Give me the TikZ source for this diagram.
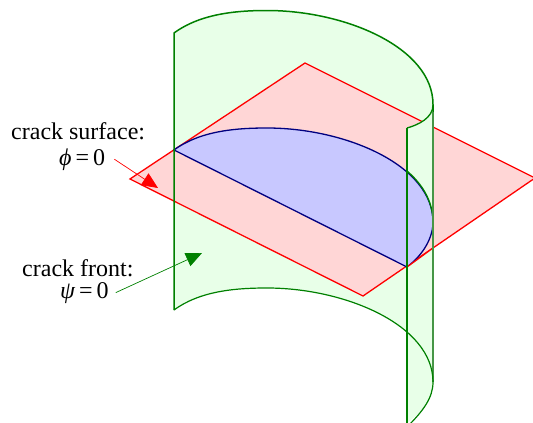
\documentclass[tikz,border=0pt]{standalone}
\usepackage{fontspec}
\setmainfont{Liberation Serif}
\usetikzlibrary{arrows.meta}
\definecolor{cylgreen}{RGB}{0,128,0}
\definecolor{cylfill} {RGB}{232,255,232}
\definecolor{edgeblue}{RGB}{0,0,128}
\definecolor{discblue}{RGB}{200,200,255}
\definecolor{planefill}{RGB}{255,214,214}
\definecolor{paleedge}{RGB}{70,150,70}

\begin{document}
\begin{tikzpicture}[
  x=1pt, y=-1pt,
  cyledge/.style={cylgreen, line width=1.5pt},
  planeedge/.style={red, line width=1.3pt},
  label/.style={font=\fontsize{24}{24}\selectfont, inner sep=0pt, anchor=base west},
  pointer/.style={line width=0.7pt, -{Triangle[length=16pt, width=14pt]}},
]
\useasboundingbox (0,0) rectangle (533,423);
\clip (0,0) rectangle (533,423);

% ── back of the cylinder ────────────────────────────────────
\fill[cylfill] (174,33) .. controls (200,14) and (235,10.5) .. (267,10.5)
  .. controls (345,10.5) and (433,47.5) .. (433,104.5)
  -- (433,382) .. controls (433,325) and (345,288) .. (267,288)
  .. controls (235,288) and (200,291) .. (174,310) -- cycle;

% ── crack surface ───────────────────────────────────────────
\filldraw[planeedge, fill=planefill] (130,179) -- (305,63) -- (535,178) -- (363,296) -- cycle;

% ── half disc ───────────────────────────────────────────────
\filldraw[edgeblue, line width=1.3pt, fill=discblue] (174,150)
  .. controls (200,131) and (235,128) .. (267,128)
  .. controls (345,128) and (433,165) .. (433,222)
  .. controls (433,238) and (423,255) .. (407,267) -- cycle;

% ── front strip of the cylinder ─────────────────────────────
\fill[cylfill] (407,128) .. controls (418,125) and (433,118) .. (433,105)
  -- (433,222) .. controls (433,200) and (421,183) .. (407,171) -- cycle;
\fill[cylfill] (407,267) -- (433,248) -- (433,382)
  .. controls (433,398) and (423,411) .. (407,423) -- cycle;
\draw[planeedge] (407,267) -- (433,248);

% ── cylinder edges ──────────────────────────────────────────
\draw[cyledge] (174,310) -- (174,33) .. controls (200,14) and (235,10.5) .. (267,10.5)
  .. controls (345,10.5) and (433,47.5) .. (433,104.5) -- (433,112);
\draw[cyledge, line width=1.3pt] (433,105) .. controls (433,118) and (418,125) .. (407,128);
\draw[cyledge, line width=1.8pt] (407,128) -- (407,423);
\draw[cyledge, line width=1.3pt] (433,222) .. controls (433,200) and (421,183) .. (407,171);
\draw[paleedge, line width=1.3pt] (433,112) -- (433,382);
\draw[cyledge, line width=1.2pt] (174,310) .. controls (200,291) and (235,288) .. (267,288)
  .. controls (345,288) and (433,325) .. (433,382)
  .. controls (433,398) and (423,411) .. (407,427);

% ── labels ──────────────────────────────────────────────────
\node[label] (surfacelabel) at (11,139) {crack surface:};
\node[label] (philabel) at (59,165) {{\itshape ϕ}\kern4pt=\kern4pt0};
\node[label] (frontlabel) at (22,276.5) {crack front:};
\node[label] (psilabel) at (60,298) {{\itshape ψ}\kern4pt=\kern4pt0};

% ── pointers ────────────────────────────────────────────────
\coordinate (surfacetip) at (158,188);
\coordinate (fronttip) at (202,253);
\draw[pointer, red] ([xshift=9pt]philabel.east) -- (surfacetip);
\draw[pointer, cylgreen] ([xshift=7pt]psilabel.east) -- (fronttip);

\end{tikzpicture}
\end{document}
